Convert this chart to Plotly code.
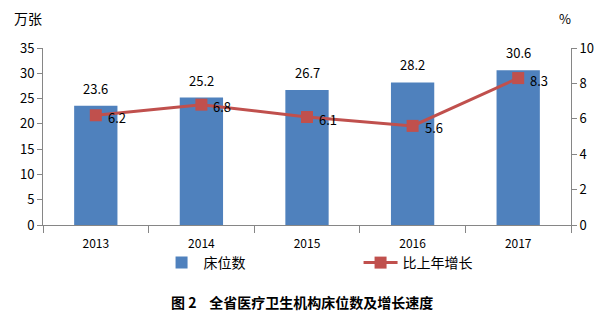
import plotly.graph_objects as go

years = ["2013", "2014", "2015", "2016", "2017"]
beds = [23.6, 25.2, 26.7, 28.2, 30.6]          # 万张
growth = [6.2, 6.8, 6.1, 5.6, 8.3]             # %

FONT = "Noto Sans CJK SC, Microsoft YaHei, sans-serif"
BAR_COLOR = "#4F81BD"
LINE_COLOR = "#C0504D"
AXIS_COLOR = "#868686"

W, H = 606, 323
L, R, T, B = 43, 33, 48, 98
pw, ph = W - L - R, H - T - B


def px_to_paper(px, py):
    return (px - L) / pw, 1 - (py - T) / ph


fig = go.Figure()
fig.add_trace(go.Bar(
    x=years, y=beds, name="床位数",
    marker=dict(color=BAR_COLOR, line=dict(width=0)),
    width=0.41, yaxis="y",
))
fig.add_trace(go.Scatter(
    x=years, y=growth, name="比上年增长", yaxis="y2",
    mode="lines+markers",
    line=dict(color=LINE_COLOR, width=3),
    marker=dict(symbol="square", size=12, color=LINE_COLOR),
))

annotations = []
# category axis: annotation x given as category index
for i, v in enumerate(beds):
    annotations.append(dict(
        x=i, y=v, xref="x", yref="y", text=f"{v:.1f}", showarrow=False,
        yanchor="bottom", yshift=6, font=dict(size=13, color="#000"),
    ))
for i, v in enumerate(growth):
    annotations.append(dict(
        x=i, y=v, xref="x", yref="y2", text=f"{v:.1f}", showarrow=False,
        xanchor="left", xshift=10, yshift=-2, font=dict(size=13, color="#000"),
    ))
for text, (px, py), size in [
    ("万张", (28, 18), 14),
    ("%", (567, 18), 13),
    ("<b>图 2    全省医疗卫生机构床位数及增长速度</b>", (303, 302), 14),
]:
    x, y = px_to_paper(px, py)
    annotations.append(dict(x=x, y=y, xref="paper", yref="paper", text=text,
                            xanchor="center", yanchor="middle",
                            showarrow=False, font=dict(size=size, color="#000")))

lx, ly = px_to_paper(160, 247)

fig.update_layout(
    width=W, height=H,
    margin=dict(l=L, r=R, t=T, b=B),
    paper_bgcolor="white", plot_bgcolor="white",
    font=dict(family=FONT, size=12, color="#000"),
    showlegend=True,
    legend=dict(
        orientation="h", x=lx, xanchor="left", y=ly, yanchor="top",
        font=dict(size=14), itemwidth=34, tracegroupgap=0,
        traceorder="normal", entrywidth=150, bgcolor="rgba(0,0,0,0)",
    ),
    xaxis=dict(
        type="category", range=[-0.5, 4.5], showline=True, linecolor=AXIS_COLOR,
        linewidth=1, ticks="outside", tickson="boundaries", ticklen=7,
        tickcolor=AXIS_COLOR, showgrid=False, tickfont=dict(size=12),
        ticklabelstandoff=8,
    ),
    yaxis=dict(
        range=[0, 35], dtick=5, showline=True, linecolor=AXIS_COLOR, linewidth=1,
        ticks="outside", ticklen=5, tickcolor=AXIS_COLOR, showgrid=False,
        zeroline=False, tickfont=dict(size=13),
    ),
    yaxis2=dict(
        range=[0, 10], dtick=2, overlaying="y", side="right", showline=True,
        linecolor=AXIS_COLOR, linewidth=1, ticks="outside", ticklen=5,
        tickcolor=AXIS_COLOR, showgrid=False, zeroline=False, tickfont=dict(size=13),
    ),
    annotations=annotations,
)

fig.write_html("out.html")
